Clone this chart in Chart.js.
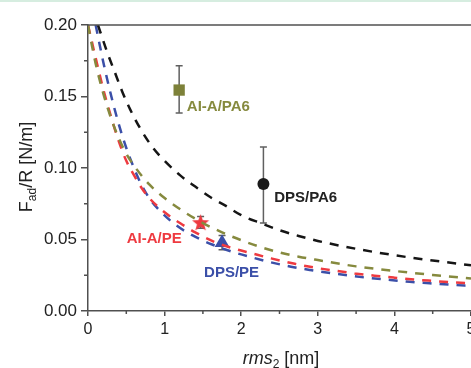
<!DOCTYPE html>
<html>
<head>
<meta charset="utf-8">
<script src="https://cdn.jsdelivr.net/npm/chart.js@4.4.1/dist/chart.umd.min.js"></script>
<style>
  html, body { margin: 0; padding: 0; background: #fff; overflow: hidden; }
  #wrap { position: relative; width: 480px; height: 368px; }
  #topline { position: absolute; left: 0; top: 0; width: 471px; height: 2px; background: #d6ede0; }
</style>
</head>
<body>
<div id="wrap">
  <canvas id="chart" width="480" height="368"></canvas>
  <div id="topline"></div>
</div>
<script>
// model curves, F_ad/R [N/m] against rms2 [nm]
const blackRms = [0.13, 0.25, 0.35, 0.45, 0.55, 0.7, 0.85, 1.0, 1.2, 1.4, 1.6, 1.8, 2.0, 2.25, 2.5, 2.75, 3.0, 3.5, 4.0, 4.5, 5.0];
const blackF   = [0.200, 0.181, 0.167, 0.153, 0.141, 0.126, 0.114, 0.105, 0.095, 0.087, 0.0795, 0.0735, 0.067, 0.0615, 0.0565, 0.0525, 0.049, 0.0435, 0.039, 0.0353, 0.032];

const oliveRms = [0, 0.05, 0.1, 0.2, 0.3, 0.4, 0.5, 0.63, 0.8, 1.0, 1.25, 1.5, 1.75, 2.0, 2.25, 2.5, 2.75, 3.0, 3.5, 4.0, 4.5, 5.0];
const oliveF   = [0.200, 0.186, 0.173, 0.152, 0.135, 0.121, 0.110, 0.0995, 0.0885, 0.079, 0.0695, 0.0615, 0.055, 0.0495, 0.0448, 0.041, 0.038, 0.0356, 0.0312, 0.028, 0.0252, 0.0228];

const redRms = [0, 0.1, 0.2, 0.3, 0.4, 0.5, 0.6, 0.7, 0.8, 1.0, 1.2, 1.4, 1.64, 1.88, 2.14, 2.39, 2.7, 2.94, 3.22, 3.48, 3.74, 4.0, 4.26, 4.51, 4.77, 5.0];
const redF   = [0.200, 0.177, 0.155, 0.136, 0.119, 0.105, 0.095, 0.086, 0.079, 0.069, 0.0615, 0.055, 0.0485, 0.044, 0.0403, 0.0368, 0.033, 0.0305, 0.0282, 0.0263, 0.0247, 0.0233, 0.022, 0.021, 0.020, 0.0193];

const blueRms = [0.1, 0.2, 0.3, 0.4, 0.5, 0.6, 0.7, 0.8, 0.93, 1.15, 1.36, 1.62, 1.88, 2.14, 2.39, 2.65, 2.9, 3.16, 3.42, 3.67, 3.95, 4.2, 4.46, 4.72, 5.0];
const blueF   = [0.200, 0.174, 0.151, 0.131, 0.114, 0.100, 0.088, 0.079, 0.0705, 0.060, 0.053, 0.0465, 0.0415, 0.0375, 0.034, 0.031, 0.0287, 0.0266, 0.0247, 0.0231, 0.0217, 0.0204, 0.0194, 0.0184, 0.0175];

// measured samples with error bars
const sampleNames   = ['AI-A/PA6', 'DPS/PA6', 'AI-A/PE', 'DPS/PE'];
const sampleRms     = [1.19, 2.29, 1.47, 1.75];
const sampleF       = [0.1545, 0.0888, 0.0618, 0.0478];
const sampleErrLow  = [0.1385, 0.0615, 0.0578, 0.0428];
const sampleErrHigh = [0.1715, 0.1147, 0.066, 0.0528];

const xTicks = [0, 1, 2, 3, 4, 5];
const yTicks = [0, 0.05, 0.10, 0.15, 0.20];

const FONT = "'Liberation Sans', Arial, sans-serif";
const C_BLACK = '#151515';
const C_OLIVE = '#868a3e';
const C_RED = '#ee3a40';
const C_BLUE = '#3b4fa8';
const AXIS = '#505050';

// where each sample name is written (data units, left edge / middle)
const nameSpots = [
  { x: 1.29, y: 0.1425, color: C_OLIVE },
  { x: 2.43, y: 0.0790, color: '#222' },
  { x: 0.505, y: 0.0503, color: C_RED },
  { x: 1.515, y: 0.0269, color: C_BLUE }
];

const toXY = (xs, ys) => xs.map((x, i) => ({ x: x, y: ys[i] }));

function curve(xs, ys, color) {
  return {
    data: toXY(xs, ys),
    showLine: true,
    borderColor: color,
    borderWidth: 2.5,
    borderDash: [9, 8],
    pointRadius: 0,
    cubicInterpolationMode: 'monotone',
    fill: false
  };
}

// filled five point star for the AI-A/PE marker
function starImage(color) {
  const c = document.createElement('canvas');
  c.width = 19; c.height = 19;
  const g = c.getContext('2d');
  g.fillStyle = color;
  g.beginPath();
  for (let i = 0; i < 10; i++) {
    const r = i % 2 === 0 ? 9 : 3.8;
    const a = -Math.PI / 2 + i * Math.PI / 5;
    const px = 9.5 + r * Math.cos(a), py = 10 + r * Math.sin(a);
    i === 0 ? g.moveTo(px, py) : g.lineTo(px, py);
  }
  g.closePath();
  g.fill();
  return c;
}

function marker(i, style, color, radius) {
  return {
    data: [{ x: sampleRms[i], y: sampleF[i] }],
    showLine: false,
    pointStyle: style,
    pointRadius: radius,
    backgroundColor: color,
    borderColor: color,
    borderWidth: 0
  };
}

const errorBars = {
  id: 'errorBars',
  beforeDatasetsDraw(chart) {
    const { ctx, scales: { x, y } } = chart;
    ctx.save();
    ctx.strokeStyle = '#606060';
    ctx.lineWidth = 1.5;
    sampleRms.forEach((r, i) => {
      const px = x.getPixelForValue(r);
      const top = y.getPixelForValue(sampleErrHigh[i]);
      const bot = y.getPixelForValue(sampleErrLow[i]);
      ctx.beginPath();
      ctx.moveTo(px, top); ctx.lineTo(px, bot);
      ctx.moveTo(px - 3.5, top); ctx.lineTo(px + 3.5, top);
      ctx.moveTo(px - 3.5, bot); ctx.lineTo(px + 3.5, bot);
      ctx.stroke();
    });
    ctx.restore();
  }
};

const decorations = {
  id: 'decorations',
  afterDraw(chart) {
    const { ctx, chartArea: a, scales: { x, y } } = chart;
    ctx.save();

    // top frame line
    ctx.strokeStyle = AXIS;
    ctx.lineWidth = 1.5;
    ctx.beginPath();
    ctx.moveTo(a.left, a.top); ctx.lineTo(a.right + 5, a.top);
    ctx.stroke();

    // minor ticks
    ctx.beginPath();
    for (let v = 0.5; v < 5; v += 1) {
      const px = x.getPixelForValue(v);
      ctx.moveTo(px, a.bottom); ctx.lineTo(px, a.bottom + 3);
    }
    for (let v = 0.025; v < 0.2; v += 0.05) {
      const py = y.getPixelForValue(v);
      ctx.moveTo(a.left, py); ctx.lineTo(a.left - 4, py);
    }
    ctx.stroke();

    // sample names
    ctx.font = 'bold 15px ' + FONT;
    ctx.textBaseline = 'middle';
    ctx.textAlign = 'left';
    nameSpots.forEach((s, i) => {
      ctx.fillStyle = s.color;
      ctx.fillText(sampleNames[i], x.getPixelForValue(s.x), y.getPixelForValue(s.y));
    });

    // x axis title: rms2 [nm]
    ctx.fillStyle = '#222';
    ctx.textBaseline = 'alphabetic';
    const main = 'italic 18px ' + FONT, plain = '18px ' + FONT, sub = '12px ' + FONT;
    ctx.font = main; const w1 = ctx.measureText('rms').width;
    ctx.font = sub; const w2 = ctx.measureText('2').width;
    ctx.font = plain; const w3 = ctx.measureText(' [nm]').width;
    let tx = 281 - (w1 + w2 + w3) / 2;
    const by = 364;
    ctx.font = main; ctx.fillText('rms', tx, by); tx += w1;
    ctx.font = sub; ctx.fillText('2', tx, by + 4); tx += w2;
    ctx.font = plain; ctx.fillText(' [nm]', tx, by);

    // y axis title: F_ad/R [N/m]
    ctx.translate(32, 167);
    ctx.rotate(-Math.PI / 2);
    ctx.font = plain; const f1 = ctx.measureText('F').width;
    ctx.font = sub; const f2 = ctx.measureText('ad').width;
    ctx.font = plain; const f3 = ctx.measureText('/R [N/m]').width;
    let ty = -(f1 + f2 + f3) / 2;
    ctx.font = plain; ctx.fillText('F', ty, 0); ty += f1;
    ctx.font = sub; ctx.fillText('ad', ty, 4); ty += f2;
    ctx.font = plain; ctx.fillText('/R [N/m]', ty, 0);

    ctx.restore();
  }
};

new Chart(document.getElementById('chart'), {
  type: 'scatter',
  data: {
    datasets: [
      curve(blackRms, blackF, C_BLACK),
      curve(oliveRms, oliveF, C_OLIVE),
      curve(redRms, redF, C_RED),
      curve(blueRms, blueF, C_BLUE),
      marker(0, 'rect', '#7d8139', 8),
      marker(1, 'circle', '#1a1a1a', 6),
      marker(2, starImage(C_RED), C_RED, 9),
      marker(3, 'triangle', C_BLUE, 8.5)
    ]
  },
  options: {
    responsive: false,
    animation: false,
    layout: { padding: { top: 25, right: 5, left: 0, bottom: 0 } },
    plugins: { legend: { display: false }, tooltip: { enabled: false } },
    scales: {
      x: {
        type: 'linear',
        min: 0,
        max: 5,
        afterFit: s => { s.height = 57; },
        afterBuildTicks: s => { s.ticks = xTicks.map(v => ({ value: v })); },
        ticks: { color: '#222', font: { family: FONT, size: 16 }, padding: 4, maxRotation: 0, autoSkip: false },
        grid: { drawOnChartArea: false, tickLength: 5, color: AXIS, lineWidth: 1.5 },
        border: { color: AXIS, width: 1.5 }
      },
      y: {
        min: 0,
        max: 0.2,
        afterFit: s => { s.width = 88; },
        afterBuildTicks: s => { s.ticks = yTicks.map(v => ({ value: v })); },
        ticks: { color: '#222', font: { family: FONT, size: 17 }, padding: 4, callback: v => v.toFixed(2) },
        grid: { drawOnChartArea: false, tickLength: 7, color: AXIS, lineWidth: 1.5 },
        border: { color: AXIS, width: 1.5 }
      }
    }
  },
  plugins: [errorBars, decorations]
});
</script>
</body>
</html>
